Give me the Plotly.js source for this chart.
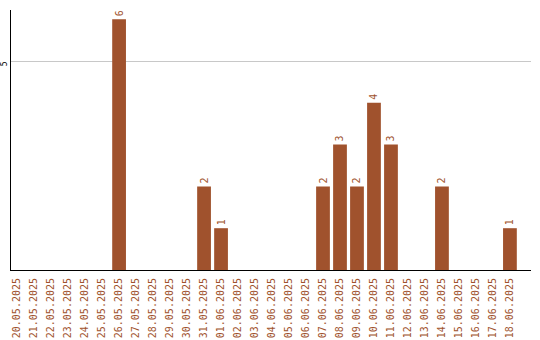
<!DOCTYPE html>
<html>
<head>
<meta charset="utf-8">
<script src="https://cdn.plot.ly/plotly-3.0.1.min.js"></script>
<style>html,body{margin:0;padding:0;background:#fff;}#chart{width:540px;height:340px;}</style>
</head>
<body>
<div id="chart"></div>
<script>
var dates = ["20.05.2025","21.05.2025","22.05.2025","23.05.2025","24.05.2025","25.05.2025","26.05.2025","27.05.2025","28.05.2025","29.05.2025","30.05.2025","31.05.2025","01.06.2025","02.06.2025","03.06.2025","04.06.2025","05.06.2025","06.06.2025","07.06.2025","08.06.2025","09.06.2025","10.06.2025","11.06.2025","12.06.2025","13.06.2025","14.06.2025","15.06.2025","16.06.2025","17.06.2025","18.06.2025"];
var counts = [0,0,0,0,0,0,6,0,0,0,0,2,1,0,0,0,0,0,2,3,2,4,3,0,0,2,0,0,0,1];
var yTicks = [5];

var brown = "#A0522D";
var labels = counts.map(function(v){ return v > 0 ? String(v) : ""; });

var trace = {
  type: "bar",
  x: dates,
  y: counts,
  text: labels,
  textposition: "outside",
  textangle: -90,
  constraintext: "none",
  cliponaxis: false,
  textfont: {family: "DejaVu Sans Mono", size: 10, color: brown},
  marker: {color: brown, line: {width: 0}},
  hoverinfo: "none"
};

var layout = {
  width: 540,
  height: 340,
  margin: {l: 11, r: 9, t: 10, b: 70, pad: 0},
  paper_bgcolor: "#fff",
  plot_bgcolor: "#fff",
  bargap: 0.19,
  showlegend: false,
  font: {family: "DejaVu Sans Mono", size: 10, color: "#000"},
  xaxis: {
    type: "category",
    range: [-0.36, 30.24],
    showline: true,
    linecolor: "#000",
    linewidth: 1,
    ticks: "",
    showgrid: false,
    zeroline: false,
    tickangle: -90,
    ticklabelstandoff: 3,
    tickfont: {family: "DejaVu Sans Mono", size: 10, color: brown},
    fixedrange: true
  },
  yaxis: {
    range: [0, 6.22],
    tickvals: yTicks,
    ticktext: yTicks.map(String),
    showline: true,
    linecolor: "#000",
    linewidth: 1,
    ticks: "",
    showgrid: true,
    gridcolor: "#c8c8c8",
    gridwidth: 1,
    zeroline: false,
    tickangle: -90,
    ticklabelshift: 4,
    tickfont: {family: "DejaVu Sans Mono", size: 8, color: "#000"},
    fixedrange: true
  }
};

Plotly.newPlot("chart", [trace], layout, {displayModeBar: false, staticPlot: true});
</script>
</body>
</html>
